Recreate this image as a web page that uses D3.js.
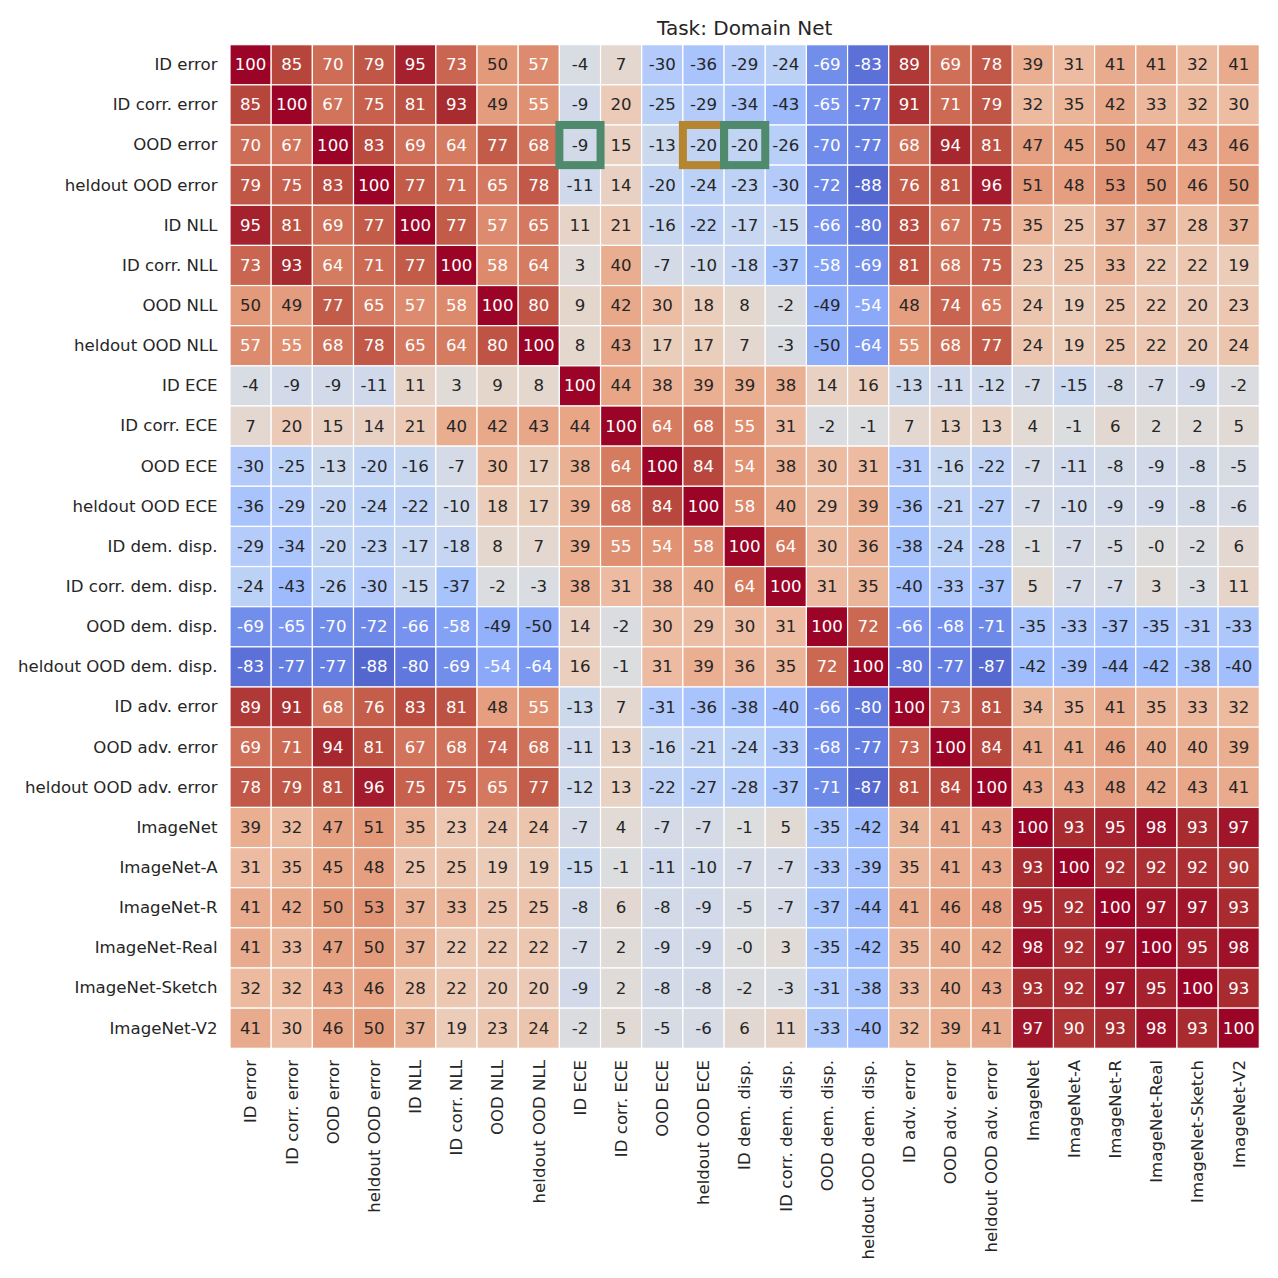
<!DOCTYPE html>
<html>
<head>
<meta charset="utf-8">
<script src="https://cdn.jsdelivr.net/npm/d3@7"></script>
<style>
  html, body { margin: 0; padding: 0; background: #fff; }
  svg { display: block; font-family: "DejaVu Sans", sans-serif; }
</style>
</head>
<body>
<svg id="chart" width="1278" height="1278"></svg>
<script>
/** Metric names (rows and columns use the same order). */
const labels = [
  "ID error", "ID corr. error", "OOD error", "heldout OOD error",
  "ID NLL", "ID corr. NLL", "OOD NLL", "heldout OOD NLL",
  "ID ECE", "ID corr. ECE", "OOD ECE", "heldout OOD ECE",
  "ID dem. disp.", "ID corr. dem. disp.", "OOD dem. disp.", "heldout OOD dem. disp.",
  "ID adv. error", "OOD adv. error", "heldout OOD adv. error",
  "ImageNet", "ImageNet-A", "ImageNet-R", "ImageNet-Real", "ImageNet-Sketch", "ImageNet-V2",
];

/** Correlation values (x100), one array per row, as printed in the cells. */
const corr = [
  [100, 85, 70, 79, 95, 73, 50, 57, -4, 7, -30, -36, -29, -24, -69, -83, 89, 69, 78, 39, 31, 41, 41, 32, 41],
  [85, 100, 67, 75, 81, 93, 49, 55, -9, 20, -25, -29, -34, -43, -65, -77, 91, 71, 79, 32, 35, 42, 33, 32, 30],
  [70, 67, 100, 83, 69, 64, 77, 68, -9, 15, -13, -20, -20, -26, -70, -77, 68, 94, 81, 47, 45, 50, 47, 43, 46],
  [79, 75, 83, 100, 77, 71, 65, 78, -11, 14, -20, -24, -23, -30, -72, -88, 76, 81, 96, 51, 48, 53, 50, 46, 50],
  [95, 81, 69, 77, 100, 77, 57, 65, 11, 21, -16, -22, -17, -15, -66, -80, 83, 67, 75, 35, 25, 37, 37, 28, 37],
  [73, 93, 64, 71, 77, 100, 58, 64, 3, 40, -7, -10, -18, -37, -58, -69, 81, 68, 75, 23, 25, 33, 22, 22, 19],
  [50, 49, 77, 65, 57, 58, 100, 80, 9, 42, 30, 18, 8, -2, -49, -54, 48, 74, 65, 24, 19, 25, 22, 20, 23],
  [57, 55, 68, 78, 65, 64, 80, 100, 8, 43, 17, 17, 7, -3, -50, -64, 55, 68, 77, 24, 19, 25, 22, 20, 24],
  [-4, -9, -9, -11, 11, 3, 9, 8, 100, 44, 38, 39, 39, 38, 14, 16, -13, -11, -12, -7, -15, -8, -7, -9, -2],
  [7, 20, 15, 14, 21, 40, 42, 43, 44, 100, 64, 68, 55, 31, -2, -1, 7, 13, 13, 4, -1, 6, 2, 2, 5],
  [-30, -25, -13, -20, -16, -7, 30, 17, 38, 64, 100, 84, 54, 38, 30, 31, -31, -16, -22, -7, -11, -8, -9, -8, -5],
  [-36, -29, -20, -24, -22, -10, 18, 17, 39, 68, 84, 100, 58, 40, 29, 39, -36, -21, -27, -7, -10, -9, -9, -8, -6],
  [-29, -34, -20, -23, -17, -18, 8, 7, 39, 55, 54, 58, 100, 64, 30, 36, -38, -24, -28, -1, -7, -5, -0, -2, 6],
  [-24, -43, -26, -30, -15, -37, -2, -3, 38, 31, 38, 40, 64, 100, 31, 35, -40, -33, -37, 5, -7, -7, 3, -3, 11],
  [-69, -65, -70, -72, -66, -58, -49, -50, 14, -2, 30, 29, 30, 31, 100, 72, -66, -68, -71, -35, -33, -37, -35, -31, -33],
  [-83, -77, -77, -88, -80, -69, -54, -64, 16, -1, 31, 39, 36, 35, 72, 100, -80, -77, -87, -42, -39, -44, -42, -38, -40],
  [89, 91, 68, 76, 83, 81, 48, 55, -13, 7, -31, -36, -38, -40, -66, -80, 100, 73, 81, 34, 35, 41, 35, 33, 32],
  [69, 71, 94, 81, 67, 68, 74, 68, -11, 13, -16, -21, -24, -33, -68, -77, 73, 100, 84, 41, 41, 46, 40, 40, 39],
  [78, 79, 81, 96, 75, 75, 65, 77, -12, 13, -22, -27, -28, -37, -71, -87, 81, 84, 100, 43, 43, 48, 42, 43, 41],
  [39, 32, 47, 51, 35, 23, 24, 24, -7, 4, -7, -7, -1, 5, -35, -42, 34, 41, 43, 100, 93, 95, 98, 93, 97],
  [31, 35, 45, 48, 25, 25, 19, 19, -15, -1, -11, -10, -7, -7, -33, -39, 35, 41, 43, 93, 100, 92, 92, 92, 90],
  [41, 42, 50, 53, 37, 33, 25, 25, -8, 6, -8, -9, -5, -7, -37, -44, 41, 46, 48, 95, 92, 100, 97, 97, 93],
  [41, 33, 47, 50, 37, 22, 22, 22, -7, 2, -9, -9, -0, 3, -35, -42, 35, 40, 42, 98, 92, 97, 100, 95, 98],
  [32, 32, 43, 46, 28, 22, 20, 20, -9, 2, -8, -8, -2, -3, -31, -38, 33, 40, 43, 93, 92, 97, 95, 100, 93],
  [41, 30, 46, 50, 37, 19, 23, 24, -2, 5, -5, -6, 6, 11, -33, -40, 32, 39, 41, 97, 90, 93, 98, 93, 100],
];

/** Highlighted cells: [row label, column label, kind]. Drawn in this order. */
const highlights = [
  ["OOD error", "ID ECE", "a"],
  ["OOD error", "heldout OOD ECE", "b"],
  ["OOD error", "ID dem. disp.", "a"],
];

const title = "Task: Domain Net";

/** Coolwarm (Moreland) control points, evenly spaced from -100 to 100. */
const coolwarmStops = [
  "#3b4cc0", "#445acc", "#4d68d7", "#5775e1", "#6282ea", "#6c8ef1", "#779af7", "#82a5fb",
  "#8db0fe", "#98b9ff", "#a3c2ff", "#aec9fd", "#b8d0f9", "#c2d5f4", "#ccd9ee", "#d5dbe6",
  "#dddddd", "#e5d8d1", "#ecd3c5", "#f1ccb9", "#f5c4ad", "#f7bba0", "#f7b194", "#f7a687",
  "#f49a7b", "#f18d6f", "#ec7f63", "#e57058", "#de604d", "#d55042", "#cb3e38", "#c0282f",
  "#b40426",
];
const highlightColor = { a: "#4e8a6b", b: "#b5852f" };

const svg = d3.select("#chart");
svg.append("rect").attr("width", 1278).attr("height", 1278).attr("fill", "#fff");

/** Plot area of the heatmap. */
const plotLeft = 230, plotRight = 1259.3, plotTop = 44.7, plotBottom = 1048.3;
const ink = "#262626";
const fontSize = 16.6;

const x = d3.scaleBand().domain(labels).range([plotLeft, plotRight]);
const y = d3.scaleBand().domain(labels).range([plotTop, plotBottom]);
const color = d3.scaleSequential(d3.piecewise(d3.interpolateRgb, coolwarmStops)).domain([-100, 100]);

/** Slightly muted rendering of the colormap, as it appears in the picture. */
function displayColor(v) {
  const c = d3.rgb(color(v));
  if (v > 0) {
    c.r *= 1 - 0.14 * (v / 100);
  } else {
    const t = -v / 100;
    c.r += 9 * t;
    c.b -= 8 * t;
  }
  return c.formatHex();
}

/** Seaborn-style pick of annotation colour from cell luminance. */
function textColor(fill) {
  const c = d3.rgb(fill);
  const lin = (v) => {
    v /= 255;
    return v <= 0.03928 ? v / 12.92 : Math.pow((v + 0.055) / 1.055, 2.4);
  };
  const lum = 0.2126 * lin(c.r) + 0.7152 * lin(c.g) + 0.0722 * lin(c.b);
  return lum > 0.408 ? ink : "#ffffff";
}

const fmt = (v) => (Object.is(v, -0) ? "-0" : String(v));

const cells = [];
corr.forEach((row, i) => row.forEach((v, j) => cells.push({ r: labels[i], c: labels[j], v })));

const g = svg.append("g");
g.selectAll("rect.cell")
  .data(cells)
  .join("rect")
  .attr("class", "cell")
  .attr("x", (d) => x(d.c))
  .attr("y", (d) => y(d.r))
  .attr("width", x.bandwidth())
  .attr("height", y.bandwidth())
  .attr("fill", (d) => displayColor(d.v))
  .attr("stroke", "#fff")
  .attr("stroke-width", 1.2);

g.selectAll("text.annot")
  .data(cells)
  .join("text")
  .attr("class", "annot")
  .attr("x", (d) => x(d.c) + x.bandwidth() / 2)
  .attr("y", (d) => y(d.r) + y.bandwidth() / 2)
  .attr("text-anchor", "middle")
  .attr("dominant-baseline", "central")
  .attr("font-size", fontSize)
  .attr("fill", (d) => textColor(color(d.v)))
  .text((d) => fmt(d.v));

// highlighted cells (thick frames on the cell border)
svg.append("g")
  .selectAll("rect")
  .data(highlights)
  .join("rect")
  .attr("x", (d) => x(d[1]))
  .attr("y", (d) => y(d[0]))
  .attr("width", x.bandwidth())
  .attr("height", y.bandwidth())
  .attr("fill", "none")
  .attr("stroke", (d) => highlightColor[d[2]])
  .attr("stroke-width", 8);

// y axis labels
const yAxis = svg.append("g")
  .attr("transform", `translate(${plotLeft},0)`)
  .call(d3.axisLeft(y).tickSize(0).tickPadding(12.5));
yAxis.select(".domain").remove();
yAxis.selectAll("text")
  .attr("font-size", fontSize)
  .attr("font-family", "DejaVu Sans, sans-serif")
  .attr("fill", ink);

// x axis labels, rotated
const xAxis = svg.append("g")
  .attr("transform", `translate(0,${plotBottom})`)
  .call(d3.axisBottom(x).tickSize(0));
xAxis.select(".domain").remove();
xAxis.selectAll("text")
  .attr("font-size", fontSize)
  .attr("font-family", "DejaVu Sans, sans-serif")
  .attr("fill", ink)
  .attr("transform", "rotate(-90)")
  .attr("x", -11.7)
  .attr("y", 0)
  .attr("dy", "0.35em")
  .attr("text-anchor", "end");

svg.append("text")
  .attr("x", (plotLeft + plotRight) / 2)
  .attr("y", 35)
  .attr("text-anchor", "middle")
  .attr("font-size", 20)
  .attr("fill", ink)
  .text(title);
</script>
</body>
</html>
